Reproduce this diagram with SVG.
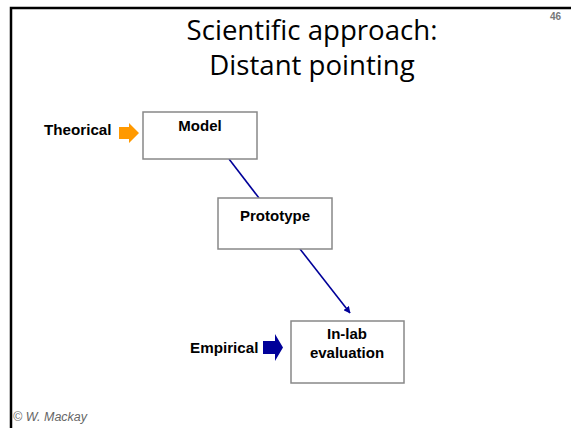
<svg xmlns="http://www.w3.org/2000/svg" width="571" height="428" viewBox="0 0 571 428">
  <style>
    .title { font-family: "Open Sans", "Liberation Sans", sans-serif; font-size: 27.6px; fill: #000; text-anchor: middle; }
    .box { fill: #fff; stroke: #888; stroke-width: 1.5; }
    .lbl { font-family: "Liberation Sans", Arial, sans-serif; font-size: 15px; font-weight: bold; fill: #000; text-anchor: middle; }
    .side { font-family: "Liberation Sans", Arial, sans-serif; font-size: 15.2px; font-weight: bold; fill: #000; }
    .conn { stroke: #000099; stroke-width: 1.6; fill: none; }
  </style>
  <defs>
    <marker id="arrow" viewBox="0 0 10 10" refX="9" refY="5" markerWidth="7" markerHeight="7" markerUnits="userSpaceOnUse" orient="auto">
      <path d="M0,0 L10,5 L0,10 z" fill="#000099"/>
    </marker>
  </defs>
  <rect width="571" height="428" fill="#fff"/>
  <!-- slide frame -->
  <path d="M11,428 V8 H571" fill="none" stroke="#000" stroke-width="2.5"/>
  <text class="title" x="312" y="40">Scientific approach:</text>
  <text class="title" x="312" y="75">Distant pointing</text>
  <text x="561" y="20" font-family="Liberation Sans, Arial, sans-serif" font-size="10" font-weight="bold" fill="#777" text-anchor="end">46</text>

  <g id="connectors">
    <line class="conn" x1="229" y1="159" x2="259" y2="198"/>
    <line class="conn" x1="300" y1="249" x2="350" y2="313" marker-end="url(#arrow)"/>
  </g>

  <g id="theorical">
    <text class="side" x="44" y="135">Theorical</text>
    <path d="M119,127 H129 V123 L139,133 L129,143 V139 H119 z" fill="#FF9900"/>
  </g>
  <g id="model">
    <rect class="box" x="143" y="112" width="114" height="47"/>
    <text class="lbl" x="200" y="131">Model</text>
  </g>
  <g id="prototype">
    <rect class="box" x="218" y="198" width="114" height="51"/>
    <text class="lbl" x="275" y="221">Prototype</text>
  </g>
  <g id="empirical">
    <text class="side" x="190" y="353">Empirical</text>
    <path d="M263,341 H275 V334 L283,347.5 L275,361 V354 H263 z" fill="#000099"/>
  </g>
  <g id="inlab">
    <rect class="box" x="291" y="321" width="113" height="62"/>
    <text class="lbl" x="347" y="339">In-lab</text>
    <text class="lbl" x="347" y="358">evaluation</text>
  </g>
  <text x="13" y="421" font-family="Liberation Sans, Arial, sans-serif" font-size="12.5" font-style="italic" fill="#666">© W. Mackay</text>
</svg>
